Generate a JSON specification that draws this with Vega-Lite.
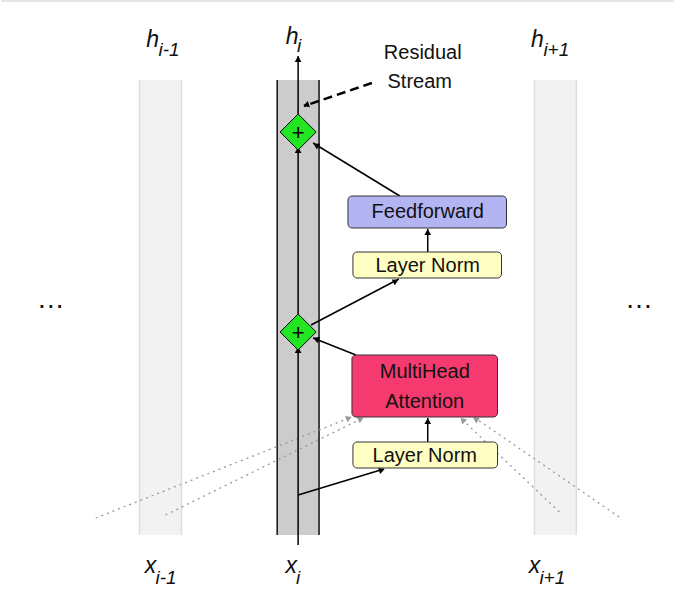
{
  "$schema": "https://vega.github.io/schema/vega-lite/v6.json",
  "width": 675,
  "height": 595,
  "autosize": {"type": "fit", "contains": "padding"},
  "padding": 0,
  "config": {"view": {"stroke": null}, "font": "Liberation Sans"},
  "resolve": {"scale": {"color": "independent"}},
  "datasets": {
    "columns": [
      {"col": "side", "x": 139, "x2": 181, "y": 80, "y2": 535},
      {"col": "main", "x": 277, "x2": 319, "y": 80, "y2": 535},
      {"col": "side", "x": 535, "x2": 577, "y": 80, "y2": 535}
    ],
    "edges": [
      {"col": "side", "x": 139, "y": 80, "y2": 535},
      {"col": "side", "x": 181, "y": 80, "y2": 535},
      {"col": "main", "x": 277, "y": 80, "y2": 535},
      {"col": "main", "x": 319, "y": 80, "y2": 535},
      {"col": "side", "x": 535, "y": 80, "y2": 535},
      {"col": "side", "x": 577, "y": 80, "y2": 535}
    ],
    "boxes": [
      {"box": "Feedforward", "x": 348, "x2": 507, "y": 196, "y2": 228},
      {"box": "Layer Norm top", "x": 353, "x2": 502, "y": 252, "y2": 278},
      {"box": "MultiHead", "x": 352, "x2": 498, "y": 355, "y2": 417},
      {"box": "Layer Norm bottom", "x": 353, "x2": 498, "y": 442, "y2": 468}
    ],
    "segments": [
      {"id": "s1", "kind": "solid", "o": 0, "x": 298, "y": 545},
      {"id": "s1", "kind": "solid", "o": 1, "x": 298, "y": 347},
      {"id": "s2", "kind": "solid", "o": 0, "x": 298, "y": 319},
      {"id": "s2", "kind": "solid", "o": 1, "x": 298, "y": 147},
      {"id": "s3", "kind": "solid", "o": 0, "x": 298, "y": 119},
      {"id": "s3", "kind": "solid", "o": 1, "x": 298, "y": 56},
      {"id": "s4", "kind": "solid", "o": 0, "x": 298, "y": 495},
      {"id": "s4", "kind": "solid", "o": 1, "x": 384, "y": 469},
      {"id": "s5", "kind": "solid", "o": 0, "x": 428, "y": 442},
      {"id": "s5", "kind": "solid", "o": 1, "x": 428, "y": 418},
      {"id": "s6", "kind": "solid", "o": 0, "x": 356, "y": 355},
      {"id": "s6", "kind": "solid", "o": 1, "x": 313, "y": 338},
      {"id": "s7", "kind": "solid", "o": 0, "x": 311, "y": 325},
      {"id": "s7", "kind": "solid", "o": 1, "x": 399, "y": 279},
      {"id": "s8", "kind": "solid", "o": 0, "x": 428, "y": 252},
      {"id": "s8", "kind": "solid", "o": 1, "x": 428, "y": 229},
      {"id": "s9", "kind": "solid", "o": 0, "x": 400, "y": 196},
      {"id": "s9", "kind": "solid", "o": 1, "x": 313, "y": 143},
      {"id": "r1", "kind": "dash", "o": 0, "x": 372, "y": 83},
      {"id": "r1", "kind": "dash", "o": 1, "x": 304, "y": 106},
      {"id": "g1", "kind": "dot", "o": 0, "x": 95, "y": 518},
      {"id": "g1", "kind": "dot", "o": 1, "x": 352, "y": 417},
      {"id": "g2", "kind": "dot", "o": 0, "x": 165, "y": 515},
      {"id": "g2", "kind": "dot", "o": 1, "x": 363, "y": 418},
      {"id": "g3", "kind": "dot", "o": 0, "x": 560, "y": 512},
      {"id": "g3", "kind": "dot", "o": 1, "x": 461, "y": 418},
      {"id": "g4", "kind": "dot", "o": 0, "x": 620, "y": 517},
      {"id": "g4", "kind": "dot", "o": 1, "x": 474, "y": 417}
    ],
    "heads": [
      {"kind": "solid", "x": 298, "y": 59, "angle": 0},
      {"kind": "solid", "x": 298, "y": 150, "angle": 0},
      {"kind": "solid", "x": 298, "y": 350, "angle": 0},
      {"kind": "solid", "x": 382, "y": 470, "angle": 73},
      {"kind": "solid", "x": 428, "y": 421, "angle": 0},
      {"kind": "solid", "x": 316, "y": 339, "angle": -67},
      {"kind": "solid", "x": 396, "y": 281, "angle": 62},
      {"kind": "solid", "x": 428, "y": 232, "angle": 0},
      {"kind": "solid", "x": 316, "y": 145, "angle": -58},
      {"kind": "solid", "x": 306, "y": 105, "angle": -109},
      {"kind": "dot", "x": 349, "y": 418, "angle": 68},
      {"kind": "dot", "x": 361, "y": 419, "angle": 64},
      {"kind": "dot", "x": 463, "y": 420, "angle": -46},
      {"kind": "dot", "x": 476, "y": 419, "angle": -56}
    ],
    "adds": [
      {"x": 298, "y": 132},
      {"x": 298, "y": 332}
    ],
    "texts": [
      {"kind": "box", "x": 428, "y": 212, "text": "Feedforward"},
      {"kind": "box", "x": 428, "y": 266, "text": "Layer Norm"},
      {"kind": "box", "x": 425, "y": 372, "text": "MultiHead"},
      {"kind": "box", "x": 425, "y": 402, "text": "Attention"},
      {"kind": "box", "x": 425, "y": 456, "text": "Layer Norm"},
      {"kind": "box", "x": 423, "y": 53, "text": "Residual"},
      {"kind": "box", "x": 420, "y": 82, "text": "Stream"},
      {"kind": "var", "x": 292, "y": 37, "text": "h"},
      {"kind": "sub", "x": 297, "y": 46, "text": "i"},
      {"kind": "var", "x": 152, "y": 40, "text": "h"},
      {"kind": "sub", "x": 158, "y": 50, "text": "i-1"},
      {"kind": "var", "x": 538, "y": 40, "text": "h"},
      {"kind": "sub", "x": 544, "y": 50, "text": "i+1"},
      {"kind": "var", "x": 291, "y": 566, "text": "x"},
      {"kind": "sub", "x": 296, "y": 578, "text": "i"},
      {"kind": "var", "x": 150, "y": 566, "text": "x"},
      {"kind": "sub", "x": 155, "y": 578, "text": "i-1"},
      {"kind": "var", "x": 535, "y": 566, "text": "x"},
      {"kind": "sub", "x": 540, "y": 578, "text": "i+1"},
      {"kind": "dots", "x": 50, "y": 300, "text": "…"},
      {"kind": "dots", "x": 640, "y": 300, "text": "…"}
    ],
    "frame": [
      {"x": 0, "x2": 675, "y": 1}
    ]
  },
  "encoding": {
    "x": {"field": "x", "type": "quantitative", "scale": {"domain": [0, 675]}, "axis": null},
    "y": {"field": "y", "type": "quantitative", "scale": {"domain": [0, 595], "reverse": true}, "axis": null}
  },
  "layer": [
    {
      "data": {"name": "frame"},
      "mark": {"type": "rule", "color": "#cccccc", "strokeWidth": 1},
      "encoding": {"x2": {"field": "x2"}}
    },
    {
      "data": {"name": "columns"},
      "mark": {"type": "rect"},
      "encoding": {
        "x2": {"field": "x2"},
        "y2": {"field": "y2"},
        "color": {"field": "col", "type": "nominal", "legend": null,
          "scale": {"domain": ["side", "main"], "range": ["#f2f2f2", "#cccccc"]}}
      }
    },
    {
      "data": {"name": "edges"},
      "mark": {"type": "rule", "strokeWidth": 1.5},
      "encoding": {
        "y2": {"field": "y2"},
        "color": {"field": "col", "type": "nominal", "legend": null,
          "scale": {"domain": ["side", "main"], "range": ["#dddddd", "#111111"]}}
      }
    },
    {
      "data": {"name": "segments"},
      "transform": [{"filter": "datum.kind === 'dot'"}],
      "mark": {"type": "line", "color": "#999999", "strokeWidth": 1.3, "strokeDash": [2, 4]},
      "encoding": {"detail": {"field": "id"}, "order": {"field": "o"}}
    },
    {
      "data": {"name": "segments"},
      "transform": [{"filter": "datum.kind === 'dash'"}],
      "mark": {"type": "line", "color": "#000000", "strokeWidth": 2.5, "strokeDash": [9, 5]},
      "encoding": {"detail": {"field": "id"}, "order": {"field": "o"}}
    },
    {
      "data": {"name": "segments"},
      "transform": [{"filter": "datum.kind === 'solid'"}],
      "mark": {"type": "line", "color": "#000000", "strokeWidth": 1.5},
      "encoding": {"detail": {"field": "id"}, "order": {"field": "o"}}
    },
    {
      "data": {"name": "heads"},
      "mark": {"type": "point", "shape": "triangle-up", "filled": true, "opacity": 1},
      "encoding": {
        "angle": {"field": "angle", "type": "quantitative", "scale": null},
        "color": {"field": "kind", "type": "nominal", "legend": null,
          "scale": {"domain": ["solid", "dot"], "range": ["#000000", "#999999"]}},
        "size": {"value": 45}
      }
    },
    {
      "data": {"name": "boxes"},
      "mark": {"type": "rect", "cornerRadius": 4, "stroke": "#333333", "strokeWidth": 1},
      "encoding": {
        "x2": {"field": "x2"},
        "y2": {"field": "y2"},
        "color": {"field": "box", "type": "nominal", "legend": null,
          "scale": {"domain": ["Feedforward", "Layer Norm top", "MultiHead", "Layer Norm bottom"],
            "range": ["#b3b5f2", "#ffffc4", "#f43a6e", "#ffffc4"]}}
      }
    },
    {
      "data": {"name": "adds"},
      "mark": {"type": "point", "shape": "diamond", "filled": true, "fill": "#22e622", "stroke": "#000000", "strokeWidth": 1, "opacity": 1, "size": 1300}
    },
    {
      "data": {"name": "adds"},
      "mark": {"type": "text", "text": "+", "fontSize": 22, "color": "#000000", "baseline": "middle", "dy": 1}
    },
    {
      "data": {"name": "texts"},
      "transform": [{"filter": "datum.kind === 'box'"}],
      "mark": {"type": "text", "fontSize": 20, "color": "#111111", "baseline": "middle"},
      "encoding": {"text": {"field": "text"}}
    },
    {
      "data": {"name": "texts"},
      "transform": [{"filter": "datum.kind === 'var'"}],
      "mark": {"type": "text", "fontSize": 23, "fontStyle": "italic", "color": "#111111", "baseline": "middle", "align": "center"},
      "encoding": {"text": {"field": "text"}}
    },
    {
      "data": {"name": "texts"},
      "transform": [{"filter": "datum.kind === 'sub'"}],
      "mark": {"type": "text", "fontSize": 19, "fontStyle": "italic", "color": "#111111", "baseline": "middle", "align": "left"},
      "encoding": {"text": {"field": "text"}}
    },
    {
      "data": {"name": "texts"},
      "transform": [{"filter": "datum.kind === 'dots'"}],
      "mark": {"type": "text", "fontSize": 28, "color": "#111111", "baseline": "middle"},
      "encoding": {"text": {"field": "text"}}
    }
  ]
}
